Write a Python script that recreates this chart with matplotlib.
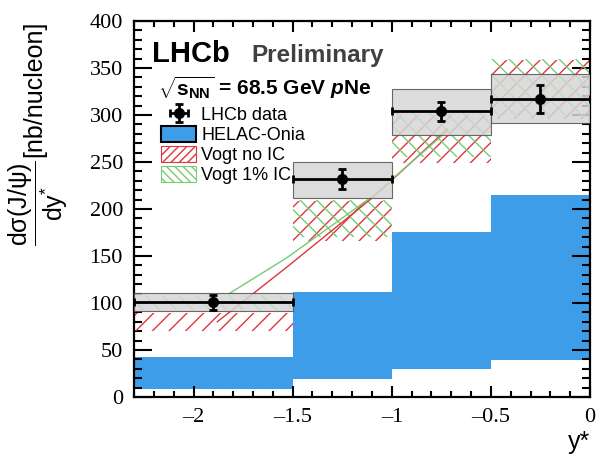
import numpy as np
import matplotlib
matplotlib.use('Agg')
import matplotlib.pyplot as plt
import matplotlib.ticker as ticker
from matplotlib.patches import Patch

plt.rcParams['font.family'] = ['Liberation Sans', 'DejaVu Sans']
plt.rcParams['mathtext.fontset'] = 'custom'
plt.rcParams['mathtext.rm'] = 'Liberation Sans'
plt.rcParams['mathtext.it'] = 'Liberation Sans:bold:italic'
plt.rcParams['mathtext.bf'] = 'Liberation Sans:bold'
plt.rcParams['hatch.linewidth'] = 1.0

# --- Binning in y* ---
edges = np.array([-2.3, -1.5, -1.0, -0.5, 0.0])
centers = np.array([-1.9, -1.25, -0.75, -0.25])

# --- LHCb pNe data ---
lhcb = np.array([101, 232, 304, 317])
stat = np.array([8, 10.5, 10, 14.5])
syst_lo = np.array([91, 212, 279, 292])
syst_hi = np.array([111, 250, 328, 344])

# --- Theory bands ---
helac_lo = np.array([8, 19, 30, 39])
helac_hi = np.array([42, 112, 175, 215])
vogt_noic_lo = np.array([70, 166, 249, 296])
vogt_noic_hi = np.array([89, 208, 300, 358])
vogt_ic_lo = np.array([93, 170, 255, 298])
vogt_ic_hi = np.array([108, 210, 305, 360])

# --- connecting lines between the Vogt bands ---
red_line_x = [-1.88, -1.53, -1.08, -0.72]
red_line_y = [80, 138, 215, 285]
green_line_x = [-1.82, -1.53, -1.10, -0.72]
green_line_y = [110, 148, 213, 283]

c_blue = '#3e9de8'
c_red = '#e2343c'
c_green = '#74cc74'

widths = np.diff(edges)

fig = plt.figure(figsize=(5.97, 4.67), dpi=100)
ax = fig.add_axes([0.2245, 0.150, 0.7638, 0.805])

ax.bar(edges[:-1], helac_hi - helac_lo, bottom=helac_lo, width=widths,
       align='edge', color=c_blue, linewidth=0, zorder=1)
ax.bar(edges[:-1], vogt_noic_hi - vogt_noic_lo, bottom=vogt_noic_lo, width=widths,
       align='edge', facecolor='none', edgecolor=c_red, hatch='//', linewidth=0, zorder=2)
ax.bar(edges[:-1], vogt_ic_hi - vogt_ic_lo, bottom=vogt_ic_lo, width=widths,
       align='edge', facecolor='none', edgecolor=c_green, hatch='\\\\', linewidth=0, zorder=2)

ax.plot(red_line_x, red_line_y, color=c_red, linewidth=1.0, zorder=3)
ax.plot(green_line_x, green_line_y, color=c_green, linewidth=1.0, zorder=3)

ax.bar(edges[:-1], syst_hi - syst_lo, bottom=syst_lo, width=widths,
       align='edge', facecolor='#d6d6d6', edgecolor='#505050', linewidth=0.8,
       alpha=0.85, zorder=4)

data = ax.errorbar(centers, lhcb, yerr=stat, xerr=widths / 2, fmt='o', color='black',
                   markersize=7, linewidth=2, capsize=3, capthick=2, zorder=5)

ax.set_xlim(-2.3, 0)
ax.set_ylim(0, 400)
ax.xaxis.set_major_locator(ticker.MultipleLocator(0.5))
ax.xaxis.set_minor_locator(ticker.MultipleLocator(0.1))
ax.yaxis.set_major_locator(ticker.MultipleLocator(50))
ax.yaxis.set_minor_locator(ticker.MultipleLocator(10))
ax.xaxis.set_major_formatter(ticker.FuncFormatter(lambda v, p: f'{v:g}'.replace('-', '\u2013')))
ax.tick_params(which='both', direction='in', top=True, right=True, width=1.5)
ax.tick_params(axis='y', which='major', length=13, pad=8)
ax.tick_params(axis='y', which='minor', length=6)
ax.tick_params(axis='x', which='major', length=8, pad=8)
ax.tick_params(axis='x', which='minor', length=4)
for lab in ax.get_xticklabels() + ax.get_yticklabels():
    lab.set_fontfamily('Liberation Serif')
    lab.set_fontsize(16)
for sp in ax.spines.values():
    sp.set_linewidth(1.6)

ax.set_xlabel('y*', loc='right', fontsize=18, labelpad=2)

fig.text(0.064, 0.565, r'$\dfrac{\mathrm{d\sigma(J/\psi)}}{\mathrm{dy}^{*}}$',
         rotation=90, fontsize=18, ha='center', va='center')
fig.text(0.058, 0.81, '[nb/nucleon]', rotation=90, fontsize=18, ha='center', va='center')

ax.text(0.04, 0.89, 'LHCb', transform=ax.transAxes, fontsize=21,
        fontweight='bold', va='baseline', ha='left')
ax.text(0.258, 0.89, 'Preliminary', transform=ax.transAxes, fontsize=17.5,
        fontweight='bold', color='#404040', va='baseline', ha='left')
ax.text(0.052, 0.803, r'$\sqrt{\mathbf{s}_{\mathbf{NN}}}$ = 68.5 GeV $p$Ne',
        transform=ax.transAxes, fontsize=15, fontweight='bold', va='baseline', ha='left')

handles = [data,
           Patch(facecolor=c_blue, edgecolor='black', linewidth=1.5),
           Patch(facecolor='white', edgecolor=c_red, hatch='////', linewidth=0.8),
           Patch(facecolor='white', edgecolor=c_green, hatch='\\\\\\\\', linewidth=0.8)]
labels = ['LHCb data', 'HELAC-Onia', 'Vogt no IC', 'Vogt 1% IC']
ax.legend(handles, labels, loc='upper left', bbox_to_anchor=(0.06, 0.775),
          frameon=False, fontsize=13, handlelength=1.9, handleheight=1.0,
          handletextpad=0.3, labelspacing=0.1, borderpad=0, borderaxespad=0)

fig.savefig('out.png', dpi=100)
